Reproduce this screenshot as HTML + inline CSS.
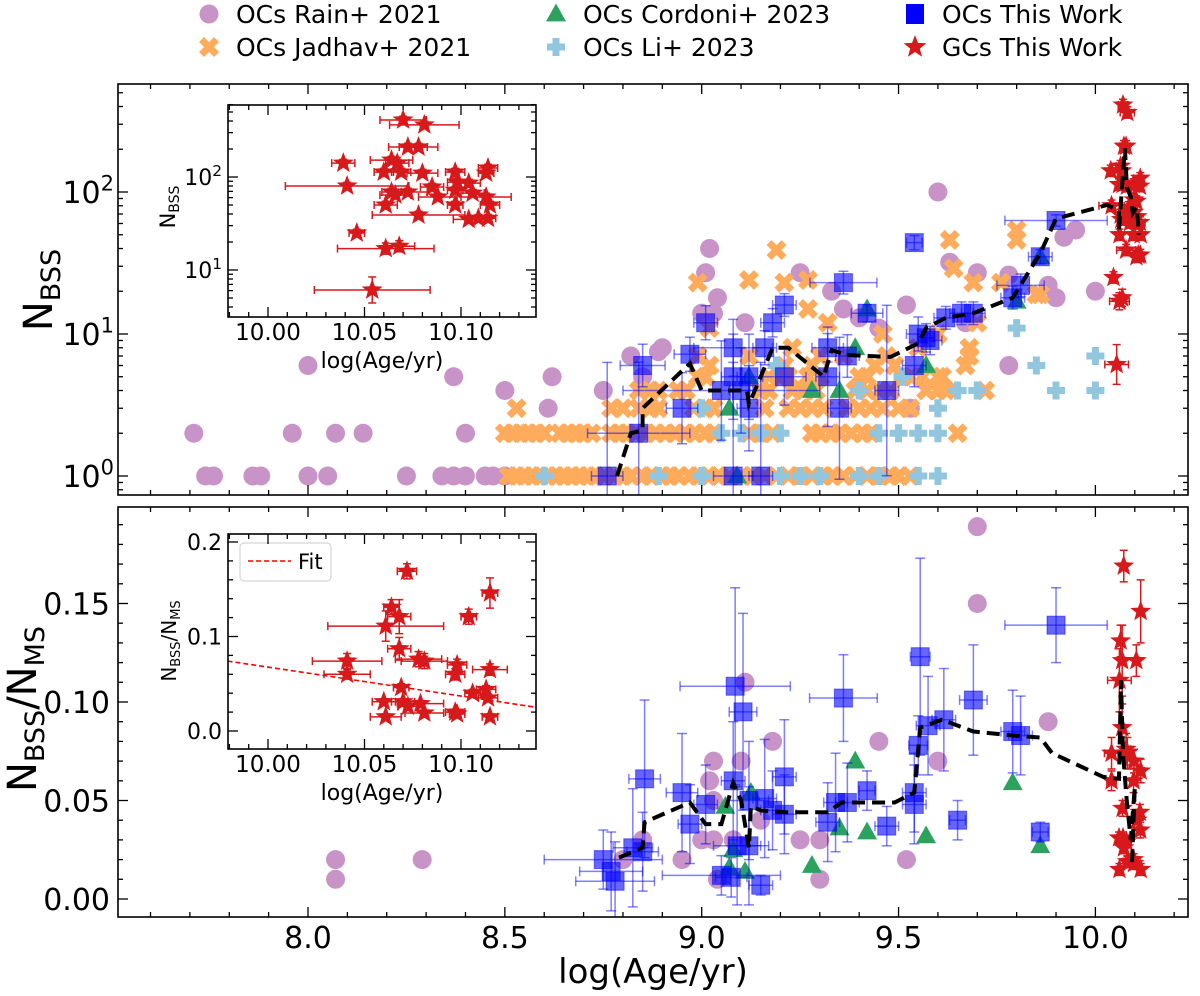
<!DOCTYPE html>
<html><head><meta charset="utf-8"><style>
html,body{margin:0;padding:0;background:#fff}
svg{display:block}
text{font-family:"DejaVu Sans","Liberation Sans",sans-serif;fill:#000}
</style></head><body>
<svg id="chart" width="1200" height="996" viewBox="0 0 1200 996" xmlns="http://www.w3.org/2000/svg">
<defs>
<clipPath id="clipTop"><rect x="118" y="84" width="1070" height="411"/></clipPath>
<clipPath id="clipBot"><rect x="118" y="507" width="1070" height="410"/></clipPath>
<clipPath id="clipIT"><rect x="228" y="105" width="308" height="212"/></clipPath>
<clipPath id="clipIB"><rect x="228" y="534" width="308" height="215"/></clipPath>
</defs>
<g id="legend"></g>
<g id="top"></g>
<g id="bot"></g>
<g id="insT"></g>
<g id="insB"></g>
</svg>
<script>
// ---------- data ----------
const rainAge = [7.71,7.74,7.76,7.86,7.88,7.96,8.00,8.37,8.62,8.50,8.61,8.07,8.14,8.40,8.00,8.05,8.25,8.34,8.37,8.40,8.45,8.47,8.50,9.02,9.01,9.04,9.00,9.03,9.25,9.33,9.36,9.11,8.82,8.89,8.90,8.85,8.75,9.52,9.45,9.40,9.63,9.53,9.60,9.70,9.78,9.88,9.90,9.92,9.95,10.00,9.78,9.67];
const rainN = [2,1,1,1,1,2,6,5,5,4,3,2,2,2,1,1,1,1,1,1,1,1,1,40,27,18,14,14,27,20,15,12,7,7.5,8,5,4,16,11,13,32,3,100,27,26,22,18,48,54,20,6,12];
const jadhavAge = [8.51,8.53,8.55,8.57,8.59,8.61,8.63,8.65,8.67,8.69,8.71,8.73,8.75,8.78,8.80,8.82,8.85,8.87,8.90,8.92,8.94,8.97,8.99,9.02,9.04,9.07,9.10,9.13,9.16,9.19,9.22,9.25,9.28,9.31,9.33,9.36,9.39,9.42,9.45,9.48,9.50,9.53,
8.50,8.52,8.54,8.56,8.58,8.60,8.64,8.66,8.68,8.70,8.72,8.77,8.79,8.81,8.83,8.86,8.88,8.91,8.93,8.96,8.98,9.01,9.03,9.12,9.15,9.18,9.28,9.30,9.33,9.35,9.38,9.41,9.43,9.65,
8.53,8.77,8.80,8.84,8.87,8.89,8.98,9.01,9.03,9.16,9.22,9.25,9.28,9.31,9.37,9.40,9.43,9.46,9.50,9.53,
8.84,8.87,8.89,8.94,8.96,9.15,9.17,9.23,9.26,9.29,9.39,9.42,9.45,9.48,9.57,9.60,9.62,9.72,
8.99,9.01,9.17,9.20,9.22,9.27,9.30,9.40,9.42,9.51,9.53,9.56,9.60,9.61,
9.02,9.21,9.28,9.44,9.49,9.67,8.99,9.12,9.30,9.36,9.47,9.68,9.23,9.55,9.68,
9.19,8.99,9.12,9.21,9.27,9.63,9.64,9.27,9.69,9.76,9.80,9.80,9.85,9.86,9.32,9.46,9.60,9.70,9.02,9.67,9.61];
const jadhavN = [1,1,1,1,1,1,1,1,1,1,1,1,1,1,1,1,1,1,1,1,1,1,1,1,1,1,1,1,1,1,1,1,1,1,1,1,1,1,1,1,1,1,
2,2,2,2,2,2,2,2,2,2,2,2,2,2,2,2,2,2,2,2,2,2,2,2,2,2,2,2,2,2,2,2,2,2,
3,3,3,3,3,3,3,3,3,3,3,3,3,3,3,3,3,3,3,3,
4,4,4,4,4,4,4,4,4,4,4,4,4,4,4,4,4,4,
5,5,5,5,5,5,5,5,5,5,5,5,5,5,
6,6,6,6,6,6,7,7,7,7,7,7,8,8,8,
39,23,24,23,24,46,29,15,23,23,54,46,19,19,12,10,10,12,11,6,5];
const liAge = [8.60,8.89,9.00,9.20,9.25,9.30,9.40,9.45,9.55,9.60,9.05,9.10,9.15,9.20,9.45,9.50,9.55,9.60,9.00,9.60,9.40,9.65,9.70,9.90,10.00,9.51,9.19,9.85,10.00,9.80];
const liN = [1,1,1,1,1,1,1,1,1,1,2,2,2,2,2,2,2,2,3,3,4,4,4,4,4,5,6,6,7,11];
const cordAge = [9.42,9.39,9.57,9.28,9.35,9.07,9.12,9.09,9.80,9.86];
const cordN = [15,8,6,4,4,3,5,1,17,35];
const blueAge = [9.54,9.36,9.21,9.01,9.18,9.42,9.62,9.66,9.69,9.55,9.58,8.97,8.85,9.08,9.16,9.32,9.37,9.54,9.21,9.32,9.08,9.12,9.05,9.10,9.47,8.95,9.12,9.35,8.84,8.76,9.08,9.15,9.90,9.86,9.81,9.79,9.57];
const blueN = [44,23,16,12,12,14,13,14,14,10,9,7.2,6,8,8,8,7,6,5,5,5,5,4,4,4,3,3,3,2,1,1,1,63,35,22,18,9.4];
const blueAgeErr = [0.02,0.085,0.03,0.03,0.03,0.04,0.03,0.03,0.03,0.03,0.03,0.04,0.057,0.1,0.03,0.04,0.03,0.03,0.055,0.03,0.03,0.03,0.25,0.03,0.03,0.04,0.03,0.03,0.13,0.04,0.05,0.03,0.13,0.03,0.06,0.03,0.02];
const blueNErrDex = [0.05,0.08,0.08,0.12,0.1,0.06,0.08,0.08,0.08,0.12,0.1,0.12,0.15,0.2,0.12,0.1,0.15,0.15,0.2,0.35,0.3,0.3,0.35,0.3,0.6,0.25,0.3,0.5,0.5,0.8,0.8,0.8,0.04,0.05,0.08,0.08,0.1];
const gcAge = [10.070,10.081,10.0725,10.078,10.039,10.064,10.067,10.060,10.069,10.080,10.097,10.114,10.113,10.041,10.098,10.104,10.085,10.064,10.0725,10.097,10.066,10.106,10.088,10.113,10.061,10.097,10.115,10.078,10.104,10.109,10.114,10.046,10.061,10.068,10.054];
const gcN = [410,363,210,210,141,152,141,113,113,110,113,125,110,80,88,86,78,69,69,72,64,67,61,61,50,50,50,39,35,36,36,25,17,18,6.1];
const gcAgeErr = [0.012,0.018,0.010,0.010,0.006,0.011,0.006,0.005,0.005,0.008,0.005,0.005,0.004,0.032,0.005,0.006,0.006,0.005,0.01,0.004,0.008,0.006,0.01,0.013,0.006,0.004,0.005,0.024,0.008,0.004,0.004,0.004,0.025,0.008,0.03];
const gcNErrDex = [0.04,0.04,0.04,0.04,0.04,0.04,0.04,0.04,0.04,0.04,0.04,0.04,0.04,0.04,0.04,0.04,0.04,0.04,0.04,0.04,0.04,0.04,0.04,0.04,0.04,0.04,0.04,0.04,0.04,0.04,0.04,0.04,0.06,0.06,0.14];
const bAge = [9.90,9.555,9.69,9.36,9.085,9.105,9.615,9.575,9.79,9.81,9.55,9.21,8.855,9.08,8.95,9.01,9.16,9.42,9.54,9.54,9.34,9.37,9.12,9.18,9.21,8.97,9.32,9.47,9.65,9.86,8.825,8.85,8.75,9.09,9.12,8.77,8.78,9.05,9.075,9.15];
const bRatio = [0.139,0.123,0.101,0.102,0.108,0.095,0.091,0.088,0.085,0.083,0.078,0.062,0.061,0.060,0.054,0.048,0.051,0.055,0.054,0.048,0.049,0.049,0.050,0.045,0.043,0.038,0.039,0.037,0.040,0.034,0.026,0.024,0.020,0.027,0.027,0.014,0.009,0.012,0.011,0.007];
const bAgeErr = [0.13,0.025,0.035,0.086,0.14,0.035,0.03,0.03,0.03,0.03,0.024,0.03,0.04,0.03,0.04,0.03,0.03,0.02,0.03,0.03,0.03,0.03,0.05,0.03,0.03,0.03,0.03,0.03,0.02,0.02,0.05,0.04,0.15,0.06,0.05,0.08,0.1,0.15,0.04,0.03];
const bRatioErr = [0.019,0.05,0.028,0.022,0.05,0.05,0.026,0.025,0.021,0.02,0.015,0.029,0.04,0.03,0.03,0.02,0.03,0.01,0.02,0.02,0.025,0.02,0.03,0.02,0.02,0.02,0.02,0.01,0.01,0.005,0.03,0.02,0.015,0.03,0.03,0.02,0.02,0.01,0.01,0.005];
const rainAge2 = [9.70,9.70,9.88,9.11,9.18,9.45,9.60,9.03,9.10,9.02,9.03,9.15,8.85,9.00,9.03,9.08,9.25,9.30,8.95,8.80,9.52,9.04,9.30,8.07,8.07,8.29];
const rainRatio = [0.189,0.150,0.090,0.110,0.080,0.080,0.070,0.070,0.070,0.060,0.050,0.040,0.030,0.030,0.030,0.030,0.030,0.030,0.020,0.020,0.020,0.010,0.010,0.020,0.010,0.020];
const cordAge2 = [9.39,9.79,9.42,9.57,9.35,9.28,9.86,9.08,9.11,9.07,9.125,9.06];
const cordRatio = [0.070,0.059,0.034,0.032,0.036,0.017,0.027,0.025,0.014,0.016,0.054,0.047];
const gcAge2 = [10.072,10.115,10.064,10.068,10.104,10.061,10.068,10.041,10.078,10.081,10.098,10.115,10.041,10.097,10.069,10.106,10.113,10.114,10.060,10.070,10.0725,10.079,10.081,10.097,10.098,10.061,10.115];
const gcRatio = [0.169,0.146,0.131,0.121,0.121,0.111,0.087,0.074,0.076,0.074,0.070,0.065,0.060,0.060,0.046,0.040,0.044,0.035,0.031,0.031,0.026,0.029,0.019,0.020,0.018,0.015,0.015];
const gcAgeErr2 = [0.005,0.004,0.004,0.006,0.004,0.03,0.006,0.018,0.012,0.012,0.005,0.009,0.012,0.005,0.004,0.004,0.005,0.005,0.006,0.006,0.005,0.012,0.01,0.005,0.004,0.008,0.004];
const gcRatioErr2 = [0.008,0.016,0.008,0.018,0.008,0.016,0.012,0.008,0.008,0.008,0.006,0.006,0.005,0.006,0.004,0.004,0.004,0.004,0.003,0.003,0.003,0.003,0.003,0.003,0.003,0.003,0.003];
const topLineAge = [8.785,8.82,8.85,8.85,8.97,9.0,9.115,9.12,9.15,9.18,9.22,9.31,9.33,9.37,9.48,9.55,9.57,9.62,9.69,9.79,9.86,9.90,10.03,10.06,10.06,10.07,10.075,10.08,10.09,10.095,10.105,10.108,10.11];
const topLineN = [1,2,2.1,3,6.2,4,4,3.2,5,8,8,5,7.7,7.1,6.9,8.6,11,13,14,18,37,65,81,74,54,136,203,108,92,71,78,63,50];
const botLineAge = [8.79,8.85,8.855,8.97,9.01,9.05,9.08,9.10,9.12,9.125,9.15,9.21,9.32,9.355,9.49,9.54,9.555,9.61,9.69,9.79,9.86,9.89,10.02,10.06,10.065,10.07,10.08,10.09,10.10,10.093];
const botLineR = [0.021,0.026,0.039,0.049,0.038,0.038,0.059,0.050,0.026,0.047,0.045,0.044,0.044,0.049,0.049,0.054,0.087,0.091,0.085,0.083,0.082,0.074,0.062,0.061,0.111,0.074,0.049,0.030,0.057,0.018];
const fitIntercept = 0.0676, fitSlope = -0.306;
const mainXTicks = ['8.0','8.5','9.0','9.5','10.0'];
const ratioTicks = ['0.00','0.05','0.10','0.15'];
const insetXTicks = ['10.00','10.05','10.10'];
const insetRTicks = ['0.0','0.1','0.2'];

// ---------- scales ----------
const mx = v => 308 + (v - 8) * 393.7;
const ty = n => 476 - 142 * Math.log10(n);
const by = r => 899 - 1970 * r;
const ix = v => 268 + (v - 10) * 1930;
const ity = n => 177 - 93 * (Math.log10(n) - 2);
const iby = r => 731 - 945 * r;

const NS = 'http://www.w3.org/2000/svg';
function mk(parent, tag, attrs) {
  const e = document.createElementNS(NS, tag);
  for (const k in attrs) e.setAttribute(k, attrs[k]);
  parent.appendChild(e);
  return e;
}
const PURPLE = '#c893c6', ORANGE = '#ffab5c', LBLUE = '#92c5de', GREEN = '#2ca25f', BLUE = 'rgba(0,0,255,0.6)', RED = '#d7191c';

function circle(g, x, y) { return mk(g, 'circle', {cx: x, cy: y, r: 9.5, fill: PURPLE}); }
function xmark(g, x, y) {
  const s = 7.5;
  return mk(g, 'path', {d: `M${x-s},${y-s}L${x+s},${y+s}M${x-s},${y+s}L${x+s},${y-s}`, stroke: ORANGE, 'stroke-width': 7, 'stroke-linecap': 'butt', fill: 'none'});
}
function plus(g, x, y) {
  const s = 9;
  return mk(g, 'path', {d: `M${x-s},${y}L${x+s},${y}M${x},${y-s}L${x},${y+s}`, stroke: LBLUE, 'stroke-width': 7, fill: 'none'});
}
function tri(g, x, y) {
  const s = 10.5;
  return mk(g, 'path', {d: `M${x},${y-s}L${x+s*0.95},${y+s*0.7}L${x-s*0.95},${y+s*0.7}Z`, fill: GREEN});
}
function square(g, x, y, s) {
  s = s || 9;
  return mk(g, 'rect', {x: x - s, y: y - s, width: 2 * s, height: 2 * s, fill: BLUE, stroke: 'rgba(0,0,255,0.5)', 'stroke-width': 1});
}
function star(g, x, y, r, col) {
  let d = '';
  for (let i = 0; i < 10; i++) {
    const rr = i % 2 ? r * 0.42 : r;
    const a = -Math.PI / 2 + i * Math.PI / 5;
    d += (i ? 'L' : 'M') + (x + rr * Math.cos(a)).toFixed(1) + ',' + (y + rr * Math.sin(a)).toFixed(1);
  }
  return mk(g, 'path', {d: d + 'Z', fill: col || RED});
}
function errbar(g, x1, y1, x2, y2, col, cap, horiz) {
  mk(g, 'line', {x1, y1, x2, y2, stroke: col, 'stroke-width': 1.5});
  if (horiz) {
    mk(g, 'line', {x1: x1, y1: y1 - cap, x2: x1, y2: y1 + cap, stroke: col, 'stroke-width': 1.5});
    mk(g, 'line', {x1: x2, y1: y2 - cap, x2: x2, y2: y2 + cap, stroke: col, 'stroke-width': 1.5});
  } else {
    mk(g, 'line', {x1: x1 - cap, y1: y1, x2: x1 + cap, y2: y1, stroke: col, 'stroke-width': 1.5});
    mk(g, 'line', {x1: x2 - cap, y1: y2, x2: x2 + cap, y2: y2, stroke: col, 'stroke-width': 1.5});
  }
}
function txt(g, x, y, s, size, anchor, extra) {
  const t = mk(g, 'text', Object.assign({x, y, 'font-size': size, 'text-anchor': anchor || 'middle'}, extra || {}));
  t.textContent = s;
  return t;
}
function pow10(g, x, y, e, size) {
  const t = mk(g, 'text', {x, y, 'font-size': size, 'text-anchor': 'end'});
  const a = mk(t, 'tspan', {}); a.textContent = '10';
  const b = mk(t, 'tspan', {'font-size': size * 0.7, dy: -size * 0.42}); b.textContent = e;
  return t;
}

function frame(g, x0, y0, x1, y1, name) {
  const r = mk(g, 'rect', {x: x0, y: y0, width: x1 - x0, height: y1 - y0, fill: 'none', stroke: '#000', 'stroke-width': 1.6});
  
  
}
function xticks(g, x0, x1, y0, y1, pos, major) {
  const L = major ? 10 : 5;
  if (pos < x0 - 0.5 || pos > x1 + 0.5) return;
  mk(g, 'line', {x1: pos, y1: y1, x2: pos, y2: y1 - L, stroke: '#000', 'stroke-width': 1.3});
  mk(g, 'line', {x1: pos, y1: y0, x2: pos, y2: y0 + L, stroke: '#000', 'stroke-width': 1.3});
}
function yticks(g, x0, x1, y0, y1, pos, major) {
  const L = major ? 10 : 5;
  if (pos < y0 - 0.5 || pos > y1 + 0.5) return;
  mk(g, 'line', {x1: x0, y1: pos, x2: x0 + L, y2: pos, stroke: '#000', 'stroke-width': 1.3});
  mk(g, 'line', {x1: x1, y1: pos, x2: x1 - L, y2: pos, stroke: '#000', 'stroke-width': 1.3});
}

// ---------- legend ----------
const lg = document.getElementById('legend');
const legendItems = [
  ['OCs Rain+ 2021', 209, 14, circle], ['OCs Jadhav+ 2021', 209, 47, xmark],
  ['OCs Cordoni+ 2023', 556, 14, tri], ['OCs Li+ 2023', 556, 47, plus],
  ['OCs This Work', 915, 14, (g, x, y) => mk(g, 'rect', {x: x - 9, y: y - 10, width: 18, height: 20, fill: '#0000ff'})],
  ['GCs This Work', 915, 47, (g, x, y) => star(g, x, y, 12)]
];
legendItems.forEach(it => {
  const g = mk(lg, 'g', {});
  
  
  it[3](g, it[1], it[2]);
  txt(g, it[1] + 27, it[2] + 9, it[0], 25, 'start');
});

// ---------- top panel ----------
const T = document.getElementById('top');
const tc = mk(T, 'g', {'clip-path': 'url(#clipTop)'});
rainAge.forEach((v, i) => circle(tc, mx(v), ty(rainN[i])));
jadhavAge.forEach((v, i) => xmark(tc, mx(v), ty(jadhavN[i])));
liAge.forEach((v, i) => plus(tc, mx(v), ty(liN[i])));
cordAge.forEach((v, i) => tri(tc, mx(v), ty(cordN[i])));
blueAge.forEach((v, i) => {
  const x = mx(v), y = ty(blueN[i]);
  const c = 'rgba(0,0,255,0.5)';
  errbar(tc, mx(v - blueAgeErr[i]), y, mx(v + blueAgeErr[i]), y, c, 5, true);
  errbar(tc, x, ty(blueN[i] * Math.pow(10, blueNErrDex[i])), x, ty(blueN[i] / Math.pow(10, blueNErrDex[i])), c, 5, false);
  square(tc, x, y);
});
gcAge.forEach((v, i) => {
  const x = mx(v), y = ty(gcN[i]);
  errbar(tc, mx(v - gcAgeErr[i]), y, mx(v + gcAgeErr[i]), y, RED, 4, true);
  errbar(tc, x, ty(gcN[i] * Math.pow(10, gcNErrDex[i])), x, ty(gcN[i] / Math.pow(10, gcNErrDex[i])), RED, 4, false);
  star(tc, x, y, 11);
});
const tl = mk(tc, 'polyline', {points: topLineAge.map((v, i) => mx(v).toFixed(1) + ',' + ty(topLineN[i]).toFixed(1)).join(' '), fill: 'none', stroke: '#000', 'stroke-width': 4, 'stroke-dasharray': '13,7'});


frame(T, 118, 84, 1188, 495, 'top-axes-frame');
for (let k = 75; k <= 103; k++) { const v = k / 10; xticks(T, 118, 1188, 84, 495, mx(v), k % 5 === 0); }
for (let e = -1; e <= 2; e++) for (let m = 1; m <= 9; m++) yticks(T, 118, 1188, 84, 495, ty(m * Math.pow(10, e)), m === 1);
[0, 1, 2].forEach(e => pow10(T, 114, ty(Math.pow(10, e)) + 11, String(e), 30));
const yt1 = mk(T, 'text', {x: 0, y: 0, 'font-size': 40, 'text-anchor': 'middle', transform: 'translate(52,290) rotate(-90)'});


mk(yt1, 'tspan', {}).textContent = 'N';
mk(yt1, 'tspan', {'font-size': 27, dy: 8}).textContent = 'BSS';

// ---------- bottom panel ----------
const B = document.getElementById('bot');
const bc = mk(B, 'g', {'clip-path': 'url(#clipBot)'});
rainAge2.forEach((v, i) => circle(bc, mx(v), by(rainRatio[i])));
cordAge2.forEach((v, i) => tri(bc, mx(v), by(cordRatio[i])));
bAge.forEach((v, i) => {
  const x = mx(v), y = by(bRatio[i]);
  const c = 'rgba(0,0,255,0.5)';
  errbar(bc, mx(v - bAgeErr[i]), y, mx(v + bAgeErr[i]), y, c, 5, true);
  errbar(bc, x, by(bRatio[i] + bRatioErr[i]), x, by(bRatio[i] - bRatioErr[i]), c, 5, false);
  square(bc, x, y);
});
gcAge2.forEach((v, i) => {
  const x = mx(v), y = by(gcRatio[i]);
  errbar(bc, mx(v - gcAgeErr2[i]), y, mx(v + gcAgeErr2[i]), y, RED, 4, true);
  errbar(bc, x, by(gcRatio[i] + gcRatioErr2[i]), x, by(gcRatio[i] - gcRatioErr2[i]), RED, 4, false);
  star(bc, x, y, 11);
});
const bl = mk(bc, 'polyline', {points: botLineAge.map((v, i) => mx(v).toFixed(1) + ',' + by(botLineR[i]).toFixed(1)).join(' '), fill: 'none', stroke: '#000', 'stroke-width': 4, 'stroke-dasharray': '13,7'});


frame(B, 118, 507, 1188, 917, 'bottom-axes-frame');
for (let k = 75; k <= 103; k++) { const v = k / 10; xticks(B, 118, 1188, 507, 917, mx(v), k % 5 === 0); }
for (let k = -1; k <= 23; k++) yticks(B, 118, 1188, 507, 917, by(k / 100), k % 5 === 0);
ratioTicks.forEach(s => txt(B, 110, by(parseFloat(s)) + 11, s, 30, 'end'));
mainXTicks.forEach(s => txt(B, mx(parseFloat(s)), 948, s, 30, 'middle'));
const xt = txt(B, 653, 983, 'log(Age/yr)', 34, 'middle');


const yt2 = mk(B, 'text', {x: 0, y: 0, 'font-size': 40, 'text-anchor': 'middle', transform: 'translate(36,709) rotate(-90)'});


mk(yt2, 'tspan', {}).textContent = 'N';
mk(yt2, 'tspan', {'font-size': 27, dy: 8}).textContent = 'BSS';
mk(yt2, 'tspan', {dy: -8}).textContent = '/N';
mk(yt2, 'tspan', {'font-size': 27, dy: 8}).textContent = 'MS';

// ---------- top inset ----------
const IT = document.getElementById('insT');
mk(IT, 'rect', {x: 228, y: 105, width: 308, height: 212, fill: '#fff'});
const itc = mk(IT, 'g', {'clip-path': 'url(#clipIT)'});
gcAge.forEach((v, i) => {
  const x = ix(v), y = ity(gcN[i]);
  errbar(itc, ix(v - gcAgeErr[i]), y, ix(v + gcAgeErr[i]), y, RED, 4, true);
  errbar(itc, x, ity(gcN[i] * Math.pow(10, gcNErrDex[i])), x, ity(gcN[i] / Math.pow(10, gcNErrDex[i])), RED, 4, false);
  star(itc, x, y, 11);
});
frame(IT, 228, 105, 536, 317, 'top-inset-frame');
for (let k = 998; k <= 1014; k++) xticks(IT, 228, 536, 105, 317, ix(k / 100), k % 5 === 0);
for (let e = 0; e <= 2; e++) for (let m = 1; m <= 9; m++) yticks(IT, 228, 536, 105, 317, ity(m * Math.pow(10, e)), m === 1);
insetXTicks.forEach(s => txt(IT, ix(parseFloat(s)), 340, s, 23, 'middle'));
[1, 2].forEach(e => pow10(IT, 222, ity(Math.pow(10, e)) + 8, String(e), 22));
txt(IT, 382, 368, 'log(Age/yr)', 22, 'middle');
const iyt = mk(IT, 'text', {x: 0, y: 0, 'font-size': 21, 'text-anchor': 'middle', transform: 'translate(175,207) rotate(-90)'});
mk(iyt, 'tspan', {}).textContent = 'N';
mk(iyt, 'tspan', {'font-size': 14, dy: 4}).textContent = 'BSS';

// ---------- bottom inset ----------
const IB = document.getElementById('insB');
mk(IB, 'rect', {x: 228, y: 534, width: 308, height: 215, fill: '#fff'});
const ibc = mk(IB, 'g', {'clip-path': 'url(#clipIB)'});
const fx0 = 9.979, fx1 = 10.139;
const fit = mk(ibc, 'line', {x1: ix(fx0), y1: iby(fitIntercept + fitSlope * (fx0 - 10)), x2: ix(fx1), y2: iby(fitIntercept + fitSlope * (fx1 - 10)), stroke: 'red', 'stroke-width': 1.6, 'stroke-dasharray': '5,3'});


gcAge2.forEach((v, i) => {
  const x = ix(v), y = iby(gcRatio[i]);
  errbar(ibc, ix(v - gcAgeErr2[i]), y, ix(v + gcAgeErr2[i]), y, RED, 4, true);
  errbar(ibc, x, iby(gcRatio[i] + gcRatioErr2[i]), x, iby(gcRatio[i] - gcRatioErr2[i]), RED, 4, false);
  star(ibc, x, y, 11);
});
const lb = mk(IB, 'rect', {x: 240, y: 543, width: 91, height: 38, rx: 4, fill: '#fff', stroke: '#ccc', 'stroke-width': 1});


mk(IB, 'line', {x1: 248, y1: 561, x2: 291, y2: 561, stroke: 'red', 'stroke-width': 1.6, 'stroke-dasharray': '5,3'});
txt(IB, 298, 569, 'Fit', 21, 'start');
frame(IB, 228, 534, 536, 749, 'bottom-inset-frame');
for (let k = 998; k <= 1014; k++) xticks(IB, 228, 536, 534, 749, ix(k / 100), k % 5 === 0);
for (let k = -1; k <= 10; k++) yticks(IB, 228, 536, 534, 749, iby(k / 50), k % 5 === 0);
insetRTicks.forEach(s => txt(IB, 222, iby(parseFloat(s)) + 8, s, 22, 'end'));
insetXTicks.forEach(s => txt(IB, ix(parseFloat(s)), 772, s, 23, 'middle'));
txt(IB, 382, 800, 'log(Age/yr)', 22, 'middle');
const iyt2 = mk(IB, 'text', {x: 0, y: 0, 'font-size': 20, 'text-anchor': 'middle', transform: 'translate(176,641) rotate(-90)'});
mk(iyt2, 'tspan', {}).textContent = 'N';
mk(iyt2, 'tspan', {'font-size': 13, dy: 4}).textContent = 'BSS';
mk(iyt2, 'tspan', {dy: -4}).textContent = '/N';
mk(iyt2, 'tspan', {'font-size': 13, dy: 4}).textContent = 'MS';
</script>
</body></html>
